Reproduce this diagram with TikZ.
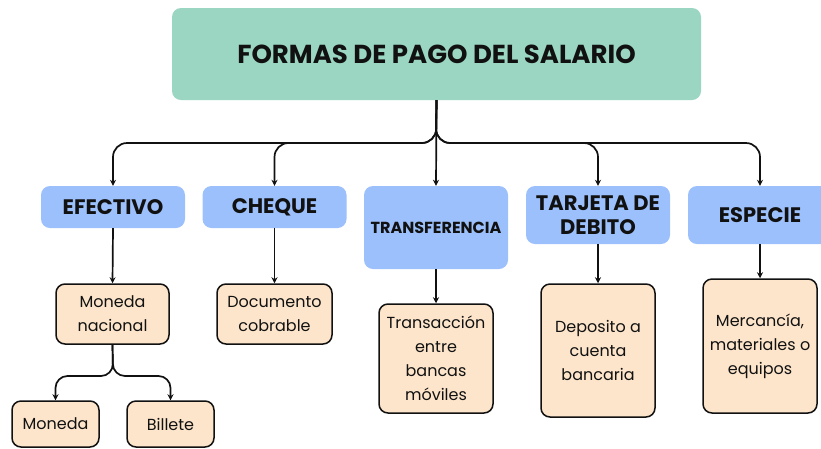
\documentclass[tikz,border=0pt]{standalone}
\usepackage{fontspec}
\setmainfont{Poppins}
\newfontfamily\headfont{Poppins}[FontFace={b}{n}{Font=* Bold}]
\usetikzlibrary{arrows.meta}
\definecolor{mint}{HTML}{9BD6C2}
\definecolor{skyb}{HTML}{9CC0FB}
\definecolor{peach}{HTML}{FDE5CB}
\definecolor{ink}{HTML}{111111}
\tikzset{
  titlebox/.style={fill=mint, rounded corners=9pt, minimum width=529pt, minimum height=92pt, inner sep=0pt, text=ink, font=\headfont\bfseries\fontsize{26}{30}\selectfont},
  catbox/.style={fill=skyb, rounded corners=9pt, minimum width=144pt, inner sep=0pt, text=ink, align=center, font=\headfont\bfseries\fontsize{21}{24}\selectfont},
  itembox/.style={fill=peach, draw=ink, line width=1.5pt, rounded corners=9pt, inner sep=0pt, text=ink, align=center, font=\fontsize{16}{24}\selectfont},
  conn/.style={draw=ink, line width=1.7pt, rounded corners=14pt, -{Stealth[length=6pt,width=6pt]}}
}
\begin{document}
\begin{tikzpicture}[x=1pt,y=-1pt]
\useasboundingbox (0,0) rectangle (821,448);
\node[titlebox] (title) at (436.5,54) {FORMAS DE PAGO DEL SALARIO};
\node[catbox, minimum height=42pt] (efe) at (113,207) {EFECTIVO};
\node[catbox, minimum height=42pt] (che) at (274.5,207) {CHEQUE};
\node[catbox, minimum height=83pt, font=\headfont\bfseries\fontsize{16}{18}\selectfont] (tra) at (436,227.5) {TRANSFERENCIA};
\node[catbox, minimum height=58pt] (tar) at (598,215) {TARJETA DE\\DEBITO};
\node[catbox, minimum height=58pt] (esp) at (760,215) {ESPECIE};
\node[itembox, minimum width=113pt, minimum height=60pt] (mnac) at (112.5,314) {Moneda\\nacional};
\node[itembox, minimum width=115pt, minimum height=60pt] (doc) at (274.5,314) {Documento\\cobrable};
\node[itembox, minimum width=114pt, minimum height=109pt] (trx) at (436,358.5) {Transacción\\entre\\bancas\\móviles};
\node[itembox, minimum width=114pt, minimum height=133pt] (dep) at (598,350.5) {Deposito a\\cuenta\\bancaria};
\node[itembox, minimum width=114pt, minimum height=134pt] (mer) at (760,346) {Mercancía,\\materiales o\\equipos};
\node[itembox, minimum width=87pt, minimum height=46pt] (mon) at (55.5,424) {Moneda};
\node[itembox, minimum width=87pt, minimum height=46pt] (bil) at (170.5,424) {Billete};
\coordinate (split) at (436,143);
\coordinate (split2) at (113,376);
\path[conn] (title.south) -- (split) -- (split -| efe.north) -- (efe.north);
\path[conn] (title.south) -- (split) -- (split -| che.north) -- (che.north);
\path[conn] (title.south) -- (tra.north);
\path[conn] (title.south) -- (split) -- (split -| tar.north) -- (tar.north);
\path[conn] (title.south) -- (split) -- (split -| esp.north) -- (esp.north);
\path[conn] (efe.south) -- (mnac.north);
\path[conn] (che.south) -- (doc.north);
\path[conn] (tra.south) -- (trx.north);
\path[conn] (tar.south) -- (dep.north);
\path[conn] (esp.south) -- (mer.north);
\path[conn, rounded corners=12pt] (mnac.south) -- (split2) -- (split2 -| mon.north) -- (mon.north);
\path[conn, rounded corners=12pt] (mnac.south) -- (split2) -- (split2 -| bil.north) -- (bil.north);
\end{tikzpicture}
\end{document}
